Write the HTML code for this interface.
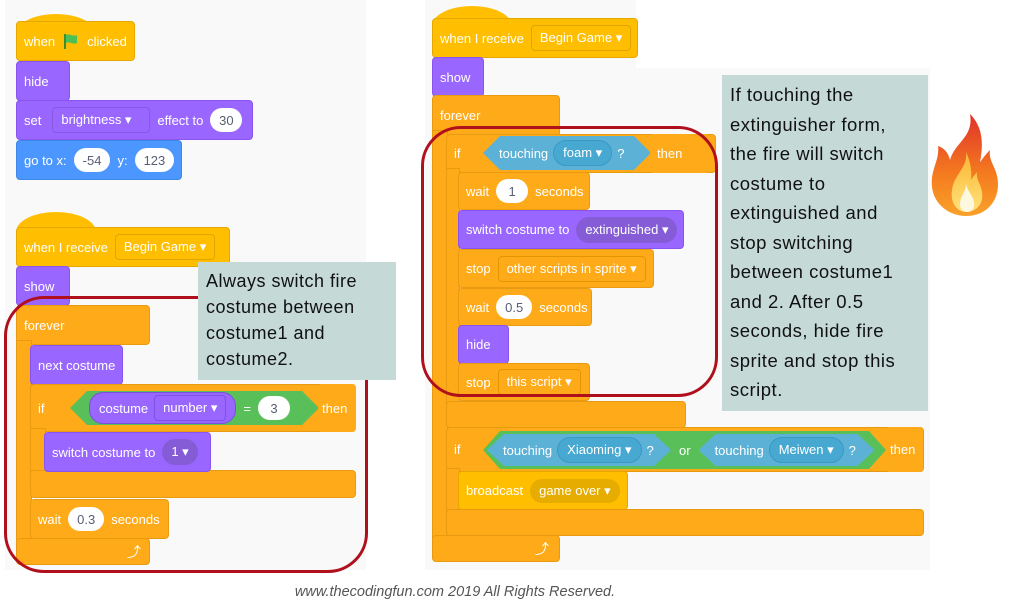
<!DOCTYPE html>
<html><head><meta charset="utf-8">
<style>
body{margin:0;width:1024px;height:604px;background:#fff;position:relative;overflow:hidden;font-family:"Liberation Sans",sans-serif}
.p{position:absolute;background:#f9f9f9}
.b{position:absolute;box-sizing:border-box;border-radius:4px;color:#fff;font-size:13px;display:flex;align-items:center;padding-left:7px;gap:7px;white-space:nowrap}
.ev{background:#ffbf00;border:1px solid #e6a800}
.ct{background:#ffab19;border:1px solid #e89b10}
.lk{background:#9966ff;border:1px solid #8a55ee}
.mo{background:#4c97ff;border:1px solid #3f86e6}
.pill{background:#fff;color:#575e75;border-radius:13px;height:24px;display:flex;align-items:center;justify-content:center;padding:0 9px}
.dd{border:1px solid rgba(0,0,0,.12);border-radius:4px;height:26px;display:flex;align-items:center;padding:0 8px;box-sizing:border-box;white-space:nowrap}
.ddr{border-radius:14px;height:26px;display:flex;align-items:center;padding:0 9px;white-space:nowrap;flex:none}
.hat{position:absolute;border-radius:50% 50% 0 0/100% 100% 0 0;background:#ffbf00}
.red{position:absolute;border:3px solid #b0101c;border-radius:40px;box-sizing:border-box}
.note{position:absolute;background:#c5d9d7;color:#111;font-size:18.5px;line-height:29.5px;padding:5px 8px;box-sizing:border-box;letter-spacing:0.5px;white-space:nowrap}
.hex{position:absolute;height:34px;display:flex;align-items:center;gap:7px;color:#fff;font-size:13px;white-space:nowrap;clip-path:polygon(17px 0,calc(100% - 17px) 0,100% 50%,calc(100% - 17px) 100%,17px 100%,0 50%);padding:0 20px;box-sizing:border-box}
</style></head><body>
<div class="p" style="left:5px;top:0;width:361px;height:570px"></div>
<div class="p" style="left:425px;top:0;width:211px;height:570px"></div>
<div class="p" style="left:425px;top:68px;width:505px;height:502px"></div>

<div class="hat" style="left:16px;top:14px;width:80px;height:20px"></div>
<div class="b ev" style="left:16px;top:21px;width:119px;height:40px">when <svg width="18" height="18" viewBox="0 0 18 18"><path d="M3 2v15" stroke="#3e8d2e" stroke-width="2"/><path d="M4 3c4-2 6 2 11 0v8c-5 2-7-2-11 0z" fill="#4cbf56"/></svg> clicked</div>
<div class="b lk" style="left:16px;top:61px;width:54px;height:40px">hide</div>
<div class="b lk" style="left:16px;top:100px;width:237px;height:40px">set <span class="dd" style="margin-left:4px;width:98px">brightness ▾</span> effect to <span class="pill" style="width:14px">30</span></div>
<div class="b mo" style="left:16px;top:140px;width:166px;height:40px">go to x: <span class="pill">-54</span> y: <span class="pill">123</span></div>

<div class="hat" style="left:16px;top:212px;width:80px;height:20px"></div>
<div class="b ev" style="left:16px;top:227px;width:214px;height:40px">when I receive <span class="dd" style="border-color:#e0a400">Begin Game ▾</span></div>
<div class="b lk" style="left:16px;top:266px;width:54px;height:40px">show</div>
<div class="b ct" style="left:16px;top:305px;width:134px;height:40px;align-items:flex-start;padding-top:12px">forever</div>
<div class="b ct" style="left:16px;top:340px;width:16px;height:210px;border-radius:0"></div>
<div class="b ct" style="left:16px;top:538px;width:134px;height:27px;justify-content:flex-end;padding-right:8px;font-size:14px">⤴</div>
<div class="b lk" style="left:30px;top:345px;width:93px;height:40px">next costume</div>
<div class="b ct" style="left:30px;top:384px;width:326px;height:48px">if</div>
<div class="b ct" style="left:30px;top:428px;width:16px;height:50px;border-radius:0"></div>
<div class="b ct" style="left:30px;top:470px;width:326px;height:28px"></div>
<div class="hex" style="left:70px;top:391px;width:249px;background:#59c059;padding-left:19px"><span class="ddr" style="background:#9966ff;border:1px solid #7a4fdc;height:30px">costume <span class="dd" style="margin-left:6px;border-color:#7d52e0">number ▾</span></span><span>=</span><span class="pill" style="width:14px">3</span></div>
<div class="b ct" style="left:318px;top:384px;width:38px;height:48px;border:none;padding-left:4px">then</div>
<div class="b lk" style="left:44px;top:432px;width:167px;height:40px">switch costume to <span class="ddr" style="background:#855cd6">1 ▾</span></div>
<div class="b ct" style="left:30px;top:499px;width:139px;height:40px">wait <span class="pill">0.3</span> seconds</div>

<div class="red" style="left:4px;top:296px;width:364px;height:277px"></div>
<div class="note" style="left:198px;top:262px;width:198px;height:118px;line-height:26px;padding-top:6px;font-size:18px">Always switch fire<br>costume between<br>costume1 and<br>costume2.</div>

<div class="hat" style="left:432px;top:6px;width:80px;height:20px"></div>
<div class="b ev" style="left:432px;top:18px;width:206px;height:40px">when I receive <span class="dd" style="border-color:#e0a400">Begin Game ▾</span></div>
<div class="b lk" style="left:432px;top:57px;width:52px;height:40px">show</div>
<div class="b ct" style="left:432px;top:95px;width:128px;height:42px;align-items:flex-start;padding-top:12px">forever</div>
<div class="b ct" style="left:432px;top:130px;width:16px;height:412px;border-radius:0"></div>
<div class="b ct" style="left:432px;top:535px;width:128px;height:27px;justify-content:flex-end;padding-right:10px;font-size:14px">⤴</div>

<div class="b ct" style="left:446px;top:134px;width:270px;height:39px">if</div>
<div class="b ct" style="left:446px;top:168px;width:14px;height:240px;border-radius:0"></div>
<div class="hex" style="left:483px;top:136px;width:168px;background:#5cb1d6;height:34px;padding:0 16px;gap:5px">touching <span class="ddr" style="background:#47a8d1;border:1px solid #3a98c2;height:24px">foam ▾</span> ?</div>
<div class="b ct" style="left:650px;top:134px;width:60px;height:39px;border:none">then</div>
<div class="b ct" style="left:458px;top:172px;width:132px;height:38px">wait <span class="pill" style="width:14px">1</span> seconds</div>
<div class="b lk" style="left:458px;top:210px;width:226px;height:39px">switch costume to <span class="ddr" style="background:#855cd6">extinguished ▾</span></div>
<div class="b ct" style="left:458px;top:249px;width:196px;height:39px">stop <span class="dd" style="border-color:#e39600">other scripts in sprite ▾</span></div>
<div class="b ct" style="left:458px;top:288px;width:134px;height:38px">wait <span class="pill">0.5</span> seconds</div>
<div class="b lk" style="left:458px;top:325px;width:51px;height:39px">hide</div>
<div class="b ct" style="left:458px;top:363px;width:132px;height:38px">stop <span class="dd" style="border-color:#e39600">this script ▾</span></div>
<div class="b ct" style="left:446px;top:401px;width:240px;height:27px"></div>

<div class="b ct" style="left:446px;top:427px;width:478px;height:45px">if</div>
<div class="b ct" style="left:446px;top:468px;width:14px;height:45px;border-radius:0"></div>
<div class="hex" style="left:483px;top:431px;width:403px;background:#59c059;height:38px;padding-left:4px;padding-right:4px;gap:0">
 <div class="hex" style="position:relative;height:32px;width:184px;background:#5cb1d6;flex:none;padding:0 16px;gap:5px">touching <span class="ddr" style="background:#47a8d1;border:1px solid #3a98c2;height:24px">Xiaoming ▾</span> ?</div>
 <span style="margin:0 8px">or</span>
 <div class="hex" style="position:relative;height:32px;width:176px;background:#5cb1d6;flex:none;padding:0 16px;gap:5px">touching <span class="ddr" style="background:#47a8d1;border:1px solid #3a98c2;height:24px">Meiwen ▾</span> ?</div>
</div>
<div class="b ct" style="left:886px;top:427px;width:36px;height:45px;border:none;padding-left:4px">then</div>
<div class="b ev" style="left:458px;top:471px;width:170px;height:39px">broadcast <span class="ddr" style="background:#e6ac00;height:24px">game over ▾</span></div>
<div class="b ct" style="left:446px;top:509px;width:478px;height:27px"></div>

<div class="red" style="left:421px;top:126px;width:297px;height:271px"></div>
<div class="note" style="left:722px;top:75px;width:206px;height:336px">If touching the<br>extinguisher form,<br>the fire will switch<br>costume to<br>extinguished and<br>stop switching<br>between costume1<br>and 2. After 0.5<br>seconds, hide fire<br>sprite and stop this<br>script.</div>

<svg style="position:absolute;left:930px;top:112px" width="70" height="105" viewBox="0 0 70 105">
<defs><linearGradient id="g" x1="0" y1="0" x2="0" y2="1"><stop offset="0" stop-color="#e0322a"/><stop offset="0.6" stop-color="#f57c1f"/><stop offset="1" stop-color="#f9a12a"/></linearGradient>
<linearGradient id="g2" x1="0" y1="0" x2="0" y2="1"><stop offset="0" stop-color="#fbb531"/><stop offset="1" stop-color="#ffe27a"/></linearGradient></defs>
<path d="M40 2C44 25 25 30 20 48C18 40 14 36 8 34C10 48 0 58 2 75C4 93 20 104 36 104C54 104 68 92 68 72C68 56 58 50 60 38C54 44 52 48 50 50C54 30 52 14 40 2Z" fill="url(#g)"/>
<path d="M36 40C38 56 24 62 22 78C20 92 28 100 36 100C46 100 54 92 52 80C51 72 46 68 47 60C44 64 42 66 41 68C42 58 40 48 36 40Z" fill="url(#g2)"/>
<path d="M36 72C36 80 30 84 30 92C30 98 34 100 37 100C42 100 45 96 44 90C43 84 38 80 36 72Z" fill="#fff8e0"/>
</svg>

<div style="position:absolute;left:0;width:910px;top:584px;text-align:center;font-size:14.5px;font-style:italic;color:#555">www.thecodingfun.com 2019 All Rights Reserved.</div>
</body></html>
